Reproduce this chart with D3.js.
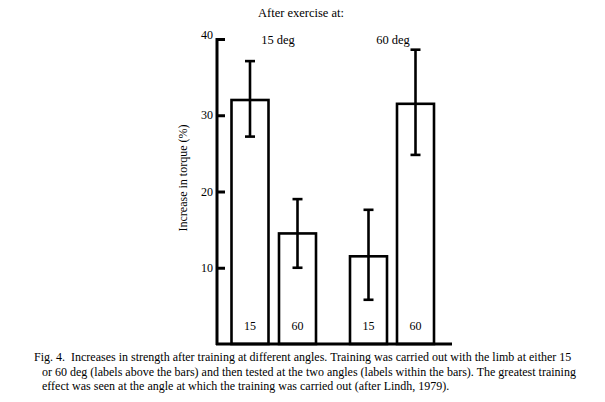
<!DOCTYPE html>
<html><head><meta charset="utf-8">
<script src="https://cdn.jsdelivr.net/npm/d3@7"></script>
<style>body{margin:0;background:#fff}svg{display:block}text{font-family:"Liberation Serif","Times New Roman",serif;fill:#000}.cap{white-space:pre}</style>
</head><body><svg id="c" width="605" height="402"></svg>
<script>
const groups = ["15 deg", "60 deg"];
const testAngles = ["15", "60", "15", "60"];
const values = [32, 14.5, 11.5, 31.5];
const errLow = [27.2, 10, 5.8, 24.8];
const errHigh = [37.1, 19, 17.6, 38.6];
const yTicks = [10, 20, 30, 40];
const caption = [
  "Fig. 4.  Increases in strength after training at different angles. Training was carried out with the limb at either 15",
  "or 60 deg (labels above the bars) and then tested at the two angles (labels within the bars). The greatest training",
  "effect was seen at the angle at which the training was carried out (after Lindh, 1979)."
];

const svg = d3.select("#c");
const y = d3.scaleLinear().domain([0, 40]).range([344, 39]);
const xPos = d3.scaleOrdinal().domain([0,1,2,3]).range([231.5, 279, 350, 397]);
const bw = 37;

// axis
const ax = svg.append("g").attr("transform","translate(217,0)");
ax.call(d3.axisRight(y).tickValues(yTicks).tickSize(8).tickFormat(""));
ax.select(".domain").remove();
ax.selectAll(".tick line").attr("stroke","#000").attr("stroke-width",3);
svg.append("line").attr("x1",217).attr("x2",217).attr("y1",y(40)-1).attr("y2",345).attr("stroke","#000").attr("stroke-width",3);
svg.append("line").attr("x1",216).attr("x2",452).attr("y1",344).attr("y2",344).attr("stroke","#000").attr("stroke-width",3);
svg.selectAll(".tl").data(yTicks).join("text")
  .attr("x",213).attr("y",d=>y(d)+(d===40?0:4)).attr("text-anchor","end")
  .attr("font-size",12).text(d=>d);

svg.append("text").attr("transform","translate(187,178) rotate(-90)")
  .attr("text-anchor","middle").attr("font-size",12).text("Increase in torque (%)");

svg.append("text").attr("x",301).attr("y",17).attr("text-anchor","middle").attr("font-size",12.5).text("After exercise at:");
svg.selectAll(".gl").data(groups).join("text")
  .attr("x",(d,i)=>[278,393][i]).attr("y",44).attr("text-anchor","middle").attr("font-size",12.5).text(d=>d);

// bars
svg.selectAll(".bar").data(values).join("rect")
  .attr("x",(d,i)=>xPos(i)).attr("width",bw)
  .attr("y",d=>y(d)).attr("height",d=>344-y(d))
  .attr("fill","none").attr("stroke","#000").attr("stroke-width",2.6);

// error bars
const eb = svg.selectAll(".eb").data(values.map((v,i)=>i)).join("g");
eb.append("line").attr("x1",i=>xPos(i)+bw/2).attr("x2",i=>xPos(i)+bw/2)
  .attr("y1",i=>y(errHigh[i])).attr("y2",i=>y(errLow[i])).attr("stroke","#000").attr("stroke-width",2.6);
eb.append("line").attr("x1",i=>xPos(i)+bw/2-5).attr("x2",i=>xPos(i)+bw/2+5)
  .attr("y1",i=>y(errHigh[i])).attr("y2",i=>y(errHigh[i])).attr("stroke","#000").attr("stroke-width",2.6);
eb.append("line").attr("x1",i=>xPos(i)+bw/2-5).attr("x2",i=>xPos(i)+bw/2+5)
  .attr("y1",i=>y(errLow[i])).attr("y2",i=>y(errLow[i])).attr("stroke","#000").attr("stroke-width",2.6);

svg.selectAll(".il").data(testAngles).join("text")
  .attr("x",(d,i)=>xPos(i)+bw/2).attr("y",330).attr("text-anchor","middle").attr("font-size",12).text(d=>d);

svg.selectAll(".cap").data(caption).join("text").attr("class","cap")
  .attr("x",(d,i)=>i===0?34:42).attr("y",(d,i)=>361+i*14.5).attr("font-size",12).text(d=>d);
</script></body></html>
